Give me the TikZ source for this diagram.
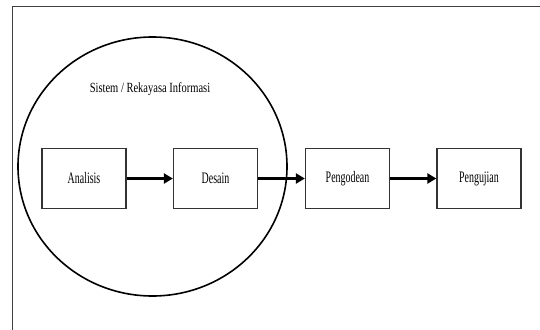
\documentclass[tikz,border=0pt]{standalone}
\usepackage{fontspec}
\setmainfont{Liberation Serif}
\usetikzlibrary{arrows.meta}
\begin{document}
\begin{tikzpicture}[x=1pt,y=-1pt,
  stepbox/.style={draw=black!80,line width=1.3pt,minimum width=84pt,minimum height=60pt,inner sep=0pt,font=\fontsize{16}{18}\selectfont},
  flow/.style={line width=2.8pt,-{Triangle[length=9pt,width=10pt]}}]
\useasboundingbox (0,0) rectangle (540,329);
\fill[white] (0,0) rectangle (540,329);
\draw[black!75,line width=1pt] (12,340) -- (12,7) -- (545,7);
\draw[line width=1.6pt] (152.5,166.5) ellipse [x radius=134.5pt, y radius=129.5pt];
\node (title) at (150,89) {\fontsize{14}{16}\selectfont\scalebox{0.75}[1]{Sistem / Rekayasa Informasi}};
\node[stepbox] (a) at (84,178.5) {\scalebox{0.62}[1]{Analisis}};
\node[stepbox] (d) at (215.5,178.5) {\scalebox{0.62}[1]{Desain}};
\node[stepbox] (p) at (347.5,178.5) {\scalebox{0.62}[1]{Pengodean}};
\node[stepbox] (u) at (479,178.5) {\scalebox{0.62}[1]{Pengujian}};
\draw[flow] (a) -- (d);
\draw[flow] (d) -- (p);
\draw[flow] (p) -- (u);
\end{tikzpicture}
\end{document}
